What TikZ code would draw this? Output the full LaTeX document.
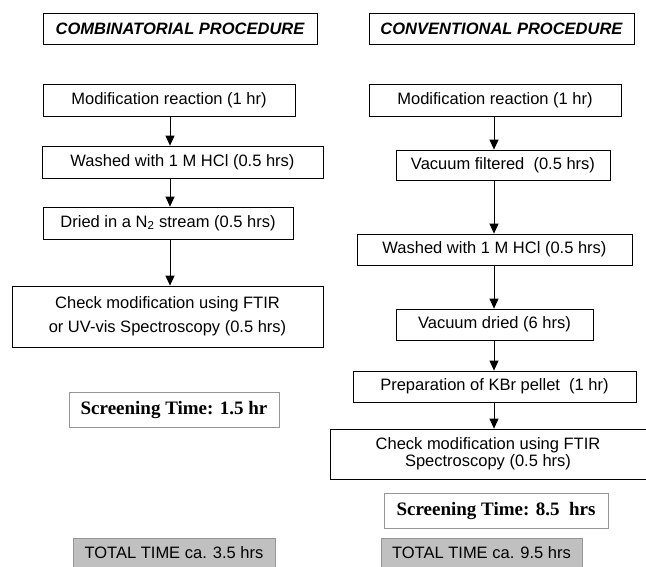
\documentclass[tikz,border=0pt]{standalone}
\usepackage{fontspec}
\setmainfont{Liberation Sans}
\newfontfamily\timesfont{Liberation Serif}
\usetikzlibrary{positioning,arrows.meta}
\definecolor{boxgray}{RGB}{150,150,150}
\definecolor{totalfill}{RGB}{192,192,192}

\begin{document}
\begin{tikzpicture}[x=1pt,y=-1pt,
	stepbox/.style={draw,rectangle,line width=0.8pt,inner sep=0pt,align=center,
		font=\fontsize{16.5}{20}\selectfont},
	titlebox/.style={stepbox,font=\fontsize{16.5}{20}\selectfont\bfseries\itshape},
	screenbox/.style={draw=boxgray,rectangle,line width=0.8pt,inner sep=0pt,
		font=\fontsize{19}{22}\selectfont\timesfont\bfseries},
	totalbox/.style={draw=boxgray,fill=totalfill,rectangle,line width=0.8pt,inner sep=0pt,
		font=\fontsize{16.5}{20}\selectfont},
	flow/.style={-{Triangle[width=9pt,length=10pt]},line width=0.8pt}]

	\useasboundingbox (0,0) rectangle (646,566);

	% combinatorial procedure
	\node[titlebox,minimum width=274pt,minimum height=31pt] (ctitle) at (180,28.5) {COMBINATORIAL PROCEDURE};
	\node[stepbox,minimum width=252pt,minimum height=32pt] (c1) at (169,100) {Modification reaction (1 hr)};
	\node[stepbox,minimum width=281pt,minimum height=32pt] (c2) at (182.5,162) {Washed with 1 M HCl (0.5 hrs)};
	\node[stepbox,minimum width=250pt,minimum height=32pt] (c3) at (168,223) {Dried in a N\textsubscript{2} stream (0.5 hrs)};
	\node[stepbox,minimum width=311pt,minimum height=61pt,font=\fontsize{16.5}{24}\selectfont] (c4) at (167.5,316.5)
		{Check modification using FTIR\\or UV-vis Spectroscopy (0.5 hrs)};
	\node[screenbox,minimum width=210pt,minimum height=35pt] (cscreen) at (174,409.5) {Screening Time: 1.5 hr};
	\node[totalbox,minimum width=202pt,minimum height=30pt] (ctotal) at (174,553) {TOTAL TIME ca. 3.5 hrs};

	% conventional procedure
	\node[titlebox,minimum width=265pt,minimum height=31pt] (vtitle) at (501.5,28.5) {CONVENTIONAL PROCEDURE};
	\node[stepbox,minimum width=252pt,minimum height=32pt] (v1) at (495,100) {Modification reaction (1 hr)};
	\node[stepbox,minimum width=214pt,minimum height=30pt] (v2) at (503,165) {Vacuum filtered\ \ (0.5 hrs)};
	\node[stepbox,minimum width=275pt,minimum height=31pt] (v3) at (494.5,249.5) {Washed with 1 M HCl (0.5 hrs)};
	\node[stepbox,minimum width=197pt,minimum height=31pt] (v4) at (494.5,324.5) {Vacuum dried (6 hrs)};
	\node[stepbox,minimum width=283pt,minimum height=31pt] (v5) at (494.5,386.5) {Preparation of KBr pellet\ \ (1 hr)};
	\node[stepbox,minimum width=316pt,minimum height=50pt,font=\fontsize{16.5}{17}\selectfont] (v6) at (488,454)
		{Check modification using FTIR\\Spectroscopy (0.5 hrs)};
	\node[screenbox,minimum width=224pt,minimum height=35pt] (vscreen) at (496,510.5) {Screening Time: 8.5\ \ hrs};
	\node[totalbox,minimum width=201pt,minimum height=30pt] (vtotal) at (481.5,553) {TOTAL TIME ca. 9.5 hrs};

	% arrows
	\coordinate (cx) at (170,0);
	\coordinate (vx) at (494,0);
	\draw[flow] (c1.south -| cx) -- (c2.north -| cx);
	\draw[flow] (c2.south -| cx) -- (c3.north -| cx);
	\draw[flow] (c3.south -| cx) -- (c4.north -| cx);
	\draw[flow] (v1.south -| vx) -- (v2.north -| vx);
	\draw[flow] (v2.south -| vx) -- (v3.north -| vx);
	\draw[flow] (v3.south -| vx) -- (v4.north -| vx);
	\draw[flow] (v4.south -| vx) -- (v5.north -| vx);
	\draw[flow] (v5.south -| vx) -- (v6.north -| vx);

\end{tikzpicture}
\end{document}
